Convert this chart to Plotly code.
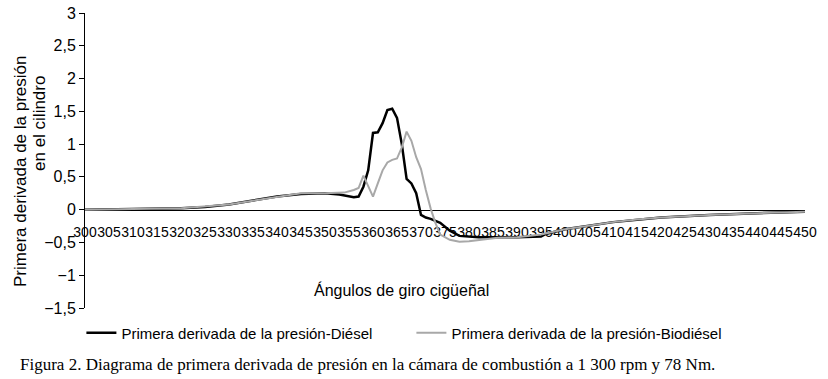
import plotly.graph_objects as go

# Crank angle (degrees) and first derivative of cylinder pressure
diesel_angle = [300, 310, 320, 325, 330, 335, 340, 345, 350, 353, 356, 357, 358, 359,
                360, 361, 362, 363, 364, 365, 366, 367, 368, 369, 370, 371, 372, 374,
                376, 378, 382, 390, 395, 396, 400, 410, 420, 430, 440, 450]
diesel_val = [0.0, 0.01, 0.02, 0.04, 0.08, 0.14, 0.2, 0.24, 0.25, 0.23, 0.19, 0.2, 0.35, 0.6,
              1.17, 1.18, 1.32, 1.52, 1.54, 1.4, 1.0, 0.47, 0.4, 0.25, -0.08, -0.12, -0.14, -0.2,
              -0.32, -0.4, -0.42, -0.42, -0.41, -0.37, -0.3, -0.19, -0.12, -0.08, -0.05, -0.03]

bio_angle = [300, 320, 330, 340, 345, 350, 354, 356, 357, 358, 359, 360, 361, 362, 363,
             364, 365, 366, 367, 368, 369, 370, 371, 372, 373, 374, 376, 378, 380, 383,
             386, 390, 395, 400, 405, 410, 415, 420, 430, 440, 450]
bio_val = [0.0, 0.02, 0.08, 0.2, 0.25, 0.25, 0.26, 0.3, 0.33, 0.52, 0.35, 0.2, 0.4, 0.6, 0.72,
           0.76, 0.78, 0.95, 1.19, 1.05, 0.8, 0.62, 0.3, 0.02, -0.2, -0.38, -0.46, -0.49, -0.48, -0.45,
           -0.43, -0.42, -0.38, -0.3, -0.24, -0.19, -0.15, -0.12, -0.08, -0.05, -0.03]

x_ticks = list(range(300, 451, 5))
y_ticks = [-1.5, -1, -0.5, 0, 0.5, 1, 1.5, 2, 2.5, 3]

names = ["Primera derivada de la presión-Diésel", "Primera derivada de la presión-Biodiésel"]

fig = go.Figure()
fig.add_trace(go.Scatter(x=diesel_angle, y=diesel_val, mode="lines", name=names[0],
                         line=dict(color="#000000", width=2.5)))
fig.add_trace(go.Scatter(x=bio_angle, y=bio_val, mode="lines", name=names[1],
                         line=dict(color="#a8a8a8", width=2)))

font = "Liberation Sans, Arial, sans-serif"
fig.update_layout(
    width=828, height=379,
    margin=dict(l=85, r=23, t=13, b=71, autoexpand=False),
    plot_bgcolor="white", paper_bgcolor="white",
    separators=",.",
    font=dict(family=font, size=16, color="#000000"),
    showlegend=True,
    legend=dict(orientation="h", x=-0.005, y=-0.085, xanchor="left", yanchor="middle",
                font=dict(family=font, size=15, color="#000000"),
                entrywidth=285, entrywidthmode="pixels", bgcolor="rgba(0,0,0,0)"),
    xaxis=dict(range=[300, 450], tickvals=x_ticks, ticktext=[str(v) for v in x_ticks],
               showgrid=False, zeroline=False, showline=True, linecolor="#000000", linewidth=1,
               anchor="free", position=1.5 / 4.5, ticks="outside", ticklen=10, tickangle=0,
               tickcolor="rgba(0,0,0,0)", layer="below traces",
               tickfont=dict(family=font, size=14, color="#000000")),
    yaxis=dict(range=[-1.5, 3], tickvals=y_ticks, showgrid=False, zeroline=False,
               showline=True, linecolor="#000000", linewidth=1, ticks="outside", ticklen=5,
               tickcolor="#000000", tickfont=dict(family=font, size=16, color="#000000")),
)

fig.add_annotation(text="Primera derivada de la presión", textangle=-90, xref="paper", yref="paper",
                   x=(20 - 85) / 720, y=(308 - 171) / 295, xanchor="center", yanchor="middle",
                   showarrow=False, font=dict(family=font, size=17))
fig.add_annotation(text="en el cilindro", textangle=-90, xref="paper", yref="paper",
                   x=(40 - 85) / 720, y=(308 - 124) / 295, xanchor="center", yanchor="middle",
                   showarrow=False, font=dict(family=font, size=17))
fig.add_annotation(text="Ángulos de giro cigüeñal", xref="paper", yref="paper",
                   x=(401 - 85) / 720, y=(308 - 290) / 295, xanchor="center", yanchor="middle",
                   showarrow=False, font=dict(family=font, size=16))
fig.add_annotation(text="Figura 2. Diagrama de primera derivada de presión en la cámara de combustión a 1 300 rpm y 78 Nm.",
                   xref="paper", yref="paper", x=(18 - 85) / 720, y=(308 - 364) / 295,
                   xanchor="left", yanchor="middle", showarrow=False,
                   font=dict(family="Liberation Serif, Times New Roman, serif", size=17))

fig.write_html("out.html", config={"displayModeBar": False},
               post_script="document.body.style.margin='0';")
